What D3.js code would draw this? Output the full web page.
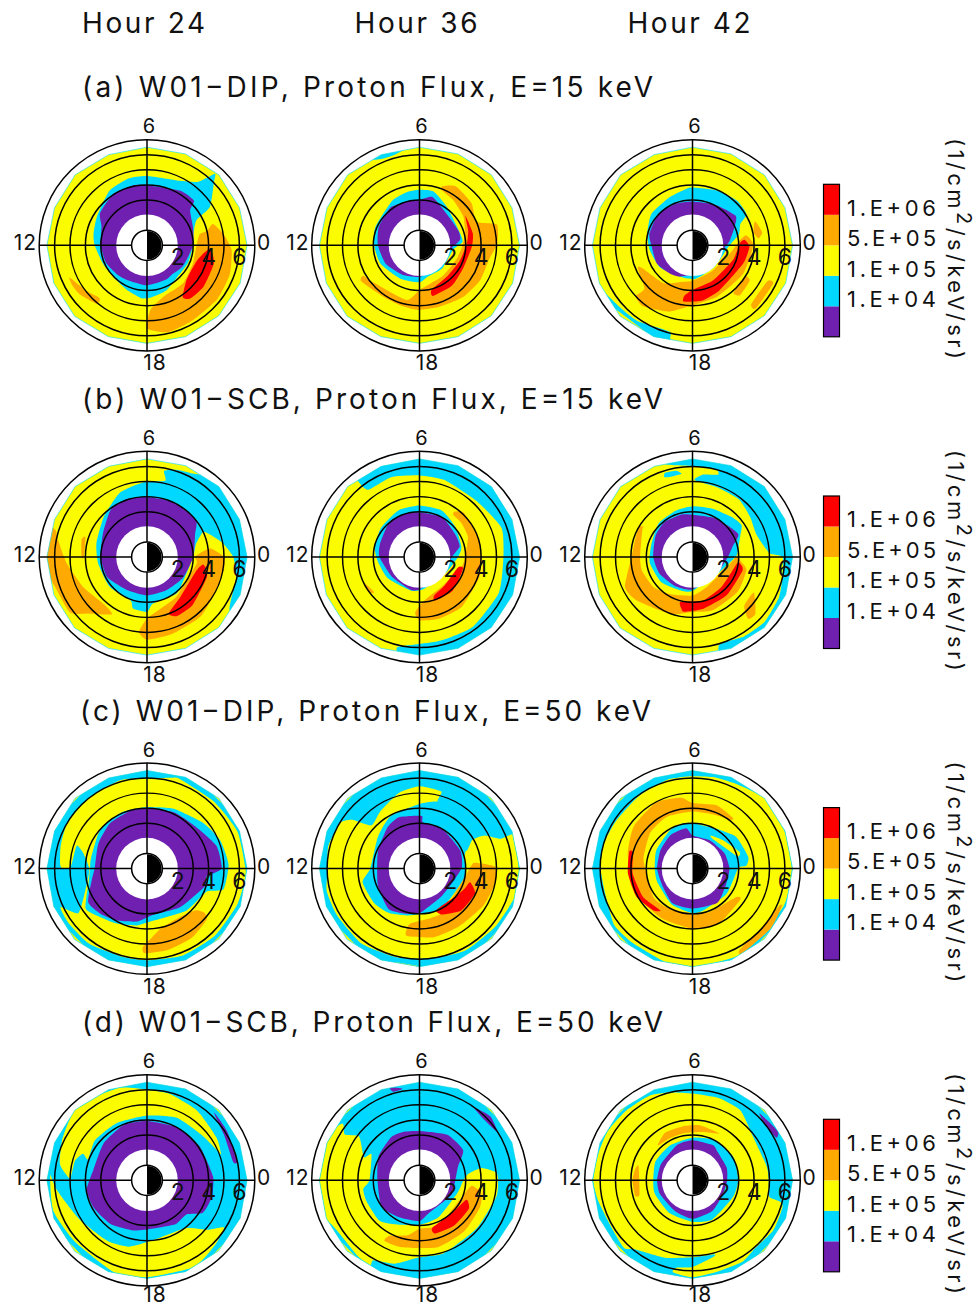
<!DOCTYPE html>
<html lang="en">
<head>
<meta charset="UTF-8">
<title>Proton flux</title>
<script src="https://cdn.jsdelivr.net/npm/d3@7"></script>
<style>
  html,body{margin:0;padding:0;background:#fff;}
  svg{display:block;}
  text{font-family:Inter,"DejaVu Sans",sans-serif;font-weight:400;fill:#111;}
</style>
</head>
<body>
<div id="box"></div>
<script>
// flux levels, low to high
const levelColors=["#7020b0","#00d8ff","#fcfc00","#ffaa00","#ff0000"];
const levelLabels=["","1.E+04","1.E+05","5.E+05","1.E+06"];
const hours=["Hour 24","Hour 36","Hour 42"];
const rowTitles=["(a) W01\u2212DIP, Proton Flux, E=15 keV","(b) W01\u2212SCB, Proton Flux, E=15 keV","(c) W01\u2212DIP, Proton Flux, E=50 keV","(d) W01\u2212SCB, Proton Flux, E=50 keV"];
const rowTitleWidths=[571,581,571,581];
const rings=[1,3,4,5,6,7];
const lTicks=[2,4,6];
const mltSpokes=[0,6,12,18];

// outer edge of the model domain [mlt, L]
const domainEdge=[[0,6.5],[1.5,6.5],[3,6.6],[4.5,6.55],[6,6.5],[7.5,6.5],[9,6.6],[10.5,6.5],[12,6.5],[13.5,6.55],[15,6.65],[16.5,6.55],[18,6.5],[19.5,6.55],[21,6.6],[22.5,6.55]];
const fullDisk=[[0,8],[6,8],[12,8],[18,8]];

// every panel: painted regions in order, [level, [[mlt,L],...]]
const a24=[
 [1,[[6,4.5],[4.2,4.7],[3.4,5.3],[3.1,6.4],[2.9,6.0],[2.1,4.8],[1.8,3.6],[0.9,3.1],[0,3.0],[22.5,2.9],[20.9,2.85],[19.5,3.2],[18.3,3.4],[17.6,3.45],[16.5,3.2],[15,3.0],[13.5,3.1],[12,3.4],[11.2,3.55],[10,3.75],[8.3,4.3],[7,4.5]]],
 [0,[[6,3.9],[3.9,4.15],[2.9,4.2],[2.6,3.6],[1.4,3.2],[0,3.0],[22,2.7],[20.7,2.5],[19.9,2.55],[18,2.6],[16,2.6],[15,2.7],[13.5,2.9],[12,3.0],[10.5,3.2],[9.7,3.7],[8.2,4.0],[6.9,4.0]]],
 [3,[[0.9,4.0],[1.2,4.5],[0.6,5.0],[23.8,5.5],[22.7,5.7],[21.5,5.75],[20.1,5.7],[18.9,5.8],[18,5.4],[18.2,4.2],[19.2,3.5],[20.9,3.4],[22.6,3.2],[23.9,3.2],[0.8,3.5]]],
 [4,[[23.8,4.1],[23,4.5],[21.6,4.55],[20.6,4.45],[20.3,4.1],[21.3,3.4],[22.9,3.4]]],
 [3,[[13.5,5.45],[14.5,4.9],[15.2,4.6],[15.3,5.0],[14.4,5.4],[13.9,5.5]]]
];
const a36=[
 [1,[[6.6,6.35],[6.6,7],[8.2,7],[8,6.4],[7.5,6.1],[7,6.1]]],
 [1,[[6,3.6],[5,3.6],[3.6,3.05],[1.1,2.75],[0.3,2.8],[23.5,2.2],[21,2.1],[19,2.1],[18,2.4],[16,2.5],[13.7,2.8],[12,2.95],[10.5,3.1],[8.1,3.4],[6.9,3.55]]],
 [0,[[6,2.95],[5,3.25],[3.3,2.7],[1.4,2.7],[0.5,2.65],[23,1.8],[20,1.8],[18,2.05],[16,2.2],[13.9,2.5],[12,2.7],[10.4,2.9],[8.5,3.1],[7,2.95]]],
 [3,[[4.6,4.1],[3.9,4.5],[2.6,4.35],[1.5,4.0],[1,5.2],[0.1,5.05],[23.2,4.6],[22,4.55],[20.7,4.4],[19.2,4.2],[17.9,4.2],[16.9,4.1],[15.5,4.1],[14.1,4.45],[13.9,4.15],[14.6,3.85],[17.1,3.65],[18,2.9],[19,2.6],[20.5,2.5],[22.5,2.55],[23.8,2.75],[0.95,3.05],[2.2,3.4],[3.5,3.65],[4.5,3.85]]],
 [4,[[2.2,3.55],[0.85,3.55],[23.9,3.4],[22.2,3.2],[20.6,3.36],[19,3.4],[19,3.0],[20.8,2.7],[22.6,2.8],[0.1,3.07],[1.1,3.3]]]
];
const a42=[
 [1,[[13.8,7],[13.9,6.5],[14.7,6.2],[15.6,6.08],[17,5.8],[17.1,6.2],[17.3,7]]],
 [1,[[6,3.75],[4.4,3.9],[3,4.1],[2,4.05],[1.6,3.4],[0.9,3.1],[0,2.4],[21,2],[18.3,2.2],[16.5,2.2],[14.3,2.55],[12.4,2.8],[11,3.04],[9.5,3.36],[7.7,3.46],[6.4,3.7]]],
 [0,[[6,2.85],[4,3.03],[2.3,3.4],[1.6,3],[0.5,2.45],[0,2.2],[20,1.8],[18,1.9],[16.5,2.2],[15.4,2.35],[13.8,2.6],[12,2.67],[11,2.9],[9.1,3.03],[7.4,2.9]]],
 [3,[[1.4,4.35],[0.7,4.6],[0.4,4.3],[0.8,4.05]]],
 [3,[[0.7,3.55],[0,3.95],[22,3.77],[19.7,3.7],[18,3.9],[16.7,4.57],[15.4,5.1],[14.8,4.95],[14.8,4.2],[13.5,3.85],[13.6,3.6],[15.5,3.1],[17,2.45],[18,2.3],[20.5,2.1],[23.2,2.5],[0.4,3.1]]],
 [4,[[0.4,3.4],[23.9,3.7],[22.7,3.5],[20.1,3.4],[18.7,3.64],[17.4,3.7],[17.4,3.3],[18,2.9],[20,2.64],[22.7,2.8],[0.2,3.1]]],
 [3,[[22,3.96],[21.9,4.36],[20.9,4.47],[20.7,4.1],[21.5,3.9]]],
 [3,[[22.3,5.4],[22.3,5.8],[21,5.8],[21,5.4]]]
];
const b24=[
 [1,[[6,4.9],[5.1,5.1],[5.25,5.7],[4.7,6.0],[3.8,6.4],[3.4,8],[0,8],[22,8],[21.8,6.4],[23.1,5.95],[0,5.6],[0.7,5.0],[1.15,4.5],[1.6,4.0],[1.0,3.3],[0,3.0],[22,2.8],[20.6,3.05],[18.5,3.05],[18,3.57],[17,3.47],[16.6,3.0],[14.6,3.1],[12.5,3.2],[11,3.4],[9.1,3.85],[7.6,4.5],[6.7,4.7]]],
 [0,[[6,3.9],[4.3,3.96],[2.5,4.0],[1.7,3.46],[0,3.0],[22,2.7],[20,2.5],[18,2.5],[16,2.5],[13.8,2.9],[12,3.0],[10.1,3.25],[8.5,3.87],[7.3,4.0]]],
 [3,[[0,5.0],[0.5,4.2],[0.4,3.7],[0,3.1],[23.5,3.25],[20.5,3.2],[19,3.46],[18,4.0],[17.6,4.9],[18,5.37],[19.2,5.26],[20.8,5.2],[22.3,5.0],[23.4,5.07]]],
 [4,[[23.5,3.7],[22.8,4.1],[20.9,4.3],[19.8,4.3],[19.4,3.93],[20.7,3.37],[23,3.34]]],
 [3,[[10.9,6.7],[12,7],[13.3,6.25],[14.4,6.15],[15,5.2],[15.9,4.36],[15.2,4.15],[13.7,4.57],[12.3,5.23],[11.3,5.86],[10.9,6.2]]],
 [3,[[11,4.4],[10.8,4.2],[12,4.1],[12,4.25]]]
];
const b36=[
 [1,[[8.5,8],[8.6,6.3],[8.5,5.5],[7.3,5.5],[6,5.3],[4.8,5.25],[2.9,5.2],[1.3,5.65],[0,5.45],[22.4,5.65],[20.5,5.7],[19,5.6],[18,5.65],[17.1,6.0],[17.1,6.4],[17.2,8],[18,8],[21,8],[0,8],[3,8],[6,8]]],
 [1,[[6,3.35],[4.3,3.35],[2.7,3.05],[0.9,2.8],[0,2.5],[22,2],[18.5,2.1],[17.1,2.25],[14.3,2.47],[12.5,2.7],[11.2,2.98],[9.5,3.14],[7.6,3.33]]],
 [0,[[6,2.9],[4,2.97],[2.2,2.75],[1,2.7],[0,2.1],[22,1.9],[18,2.1],[17,2.2],[14.4,2.2],[12,2.6],[10.8,2.7],[8.7,3.0],[7.2,2.97]]],
 [3,[[3.5,3.7],[3,4.07],[1.3,4.0],[0,4.0],[22.8,4.1],[20.7,4.24],[19.1,4.2],[18,4.1],[17.7,3.6],[18.4,2.85],[20.5,2.4],[23.1,2.8],[0,2.95],[1.5,3.4],[2.6,3.5],[3.4,3.5]]],
 [4,[[23,2.93],[21,3.07],[19.3,3.0],[19.4,2.67],[20.8,2.47],[23,2.6]]],
 [3,[[13.6,4.0],[14.5,3.72],[14.4,3.95],[14,4.05]]]
];
const b42=[
 [1,[[7.2,8],[7.2,6.4],[6,5.9],[5,5.9],[4.85,5.6],[5.5,5.4],[5.9,5.0],[4.7,4.8],[3.4,4.8],[2.3,4.55],[1.3,4.4],[0.2,5.0],[0,5.85],[23.1,6.0],[22.3,6.2],[21.2,6.3],[20.2,6.15],[19.1,6],[19.1,8],[22,8],[1,8],[4,8]]],
 [1,[[7.2,5.75],[6.7,5.7],[6.5,5.45],[7,5.4],[7.3,5.5]]],
 [1,[[6,3.3],[4.5,3.4],[3,3.65],[2.2,3.8],[1.6,3.4],[1.1,3.15],[0.1,2.85],[22,2],[18,2.2],[16.7,2.3],[14.6,2.6],[12.5,2.8],[10.8,2.8],[9,3.1],[7.3,3.2]]],
 [0,[[6,2.75],[3.9,2.94],[1.8,3.33],[1,2.7],[0,2.3],[22,1.9],[18,2.1],[15.9,2.2],[13.8,2.4],[12,2.55],[10,2.77],[8.6,2.9],[7,2.85]]],
 [3,[[10.1,4.0],[12,3.96],[13.6,4.8],[14.5,4.6],[16.6,3.96],[18,3.57],[19.4,3.7],[21.5,3.7],[23.1,3.6],[23.6,3.2],[0,2.85],[23,2.37],[19.7,2.15],[18,2.5],[16,2.8],[14.5,3.2],[13,3.4],[12,3.4],[10,3.74],[9.8,3.55]]],
 [4,[[23.5,3.1],[23,3.37],[20.8,3.33],[18.8,3.43],[17.4,3.6],[17.2,3.44],[17,3.03],[18.9,2.9],[21,2.7],[23.4,2.9]]],
 [3,[[22,4.6],[21.2,5.5],[20.8,5.4],[21.1,4.63]]]
];
const c24=[
 [1,fullDisk],
 [2,[[0,6.4],[1.5,6.35],[3,6.15],[4.7,6.2],[5,6.1],[6,5.85],[7.1,6],[8.6,5.95],[10,5.97],[11,5.8],[11.8,5.65],[12,5.5],[11.9,4.95],[10.8,4.8],[11.1,4.25],[12,3.75],[12.9,4.0],[14.2,5.3],[13.6,6.15],[14.3,6.2],[15.5,6.15],[17,5.95],[18,5.95],[19.5,6.1],[21,6.2],[22.5,6.3],[23.5,6.4]]],
 [1,[[6,4.0],[4.4,4.25],[2.6,4.7],[1.4,5.1],[0.2,5.3],[23,5.15],[22.6,4.16],[20.9,3.74],[18.5,3.4],[17.3,3.75],[16,4.1],[15,4.4],[14.2,4.75],[12.9,3.9],[12,3.7],[11.3,3.7],[9.4,3.94],[7.7,4],[6.7,3.95]]],
 [0,[[6,3.9],[4.3,4.05],[2.6,4.2],[1.2,4.75],[0,4.85],[23.5,3.9],[23,4.0],[22.4,3.7],[20.7,3.3],[18.4,3.05],[17.3,3.5],[16,3.9],[15,4.2],[14,4.4],[12.8,3.67],[12,3.4],[10.2,3.55],[8.6,3.8],[7.1,3.9]]],
 [3,[[21.5,4.7],[21.3,5.1],[20.2,5.36],[19,5.45],[17.9,5.5],[17.8,5.1],[18.3,4.45],[19,3.93],[20.5,3.84],[21.3,4.17]]]
];
const c36=[
 [1,fullDisk],
 [2,[[0,6.45],[1.3,6.5],[1.35,5.6],[1.8,4.75],[1.9,3.9],[1.4,3.3],[1.8,2.5],[4,2.5],[5,4.5],[4.95,5.2],[6,5.35],[7,5.1],[8.3,4.5],[9.2,4.2],[9.6,5.4],[10,5.95],[11.1,6.1],[12,5.95],[12.9,6.2],[14,6.15],[15.5,6.15],[17,5.95],[18,5.85],[19,5.9],[20,6.1],[21.5,6.2],[23,6.5]]],
 [2,[[17,6.3],[18,6.35],[18,6.7],[16.8,6.7]]],
 [1,[[6,4.2],[7.9,3.9],[9.5,3.4],[12,3.2],[12.9,3.8],[14.5,3.7],[15.7,3.5],[17,3.15],[18,2.95],[20,2.95],[23.3,3.0],[0.95,3.0],[1.4,3.2],[2.5,3.5],[4.5,4.0],[5,4.5]]],
 [0,[[5.8,3.4],[5.7,3.0],[4,2.97],[1.6,2.9],[0.1,2.75],[22.3,2.3],[20.5,2.3],[18,2.9],[16.8,3.07],[15.5,3.3],[13.6,2.94],[12,2.75],[10.4,2.94],[8.5,3.4],[7.5,3.6],[6.5,3.45]]],
 [3,[[0.4,3.6],[0.1,4.9],[23.4,5.05],[22,4.8],[20.3,4.55],[18.8,4.55],[17.3,4.45],[17.2,4.1],[17.4,3.6],[19.7,3.25],[23.3,3.0],[0,3.25]]],
 [4,[[23,3.4],[22.4,3.95],[21,3.84],[19.7,3.3],[19.5,2.9],[21.5,2.95],[22.4,3.2]]]
];
const c42=[
 [1,fullDisk],
 [2,[[0,6.45],[1.5,6.45],[3,6.5],[4.1,6.2],[5.1,6.1],[6,6],[7,6],[8.4,5.86],[9.9,5.85],[11,6],[12,5.97],[13.1,5.9],[14.4,6.27],[15.4,6.2],[17,6.35],[18,6.4],[20,6.4],[22.5,6.4]]],
 [1,[[6,2.95],[4,3],[2.4,3.5],[0.8,3.7],[0.2,3.5],[0.1,3],[23,2.75],[21.5,2.75],[19,2.8],[18,2.9],[16,2.7],[13.4,2.45],[12,2.45],[10.2,2.64],[8,2.9],[6.8,3]]],
 [2,[[4.1,2.45],[2.9,2.7],[1.3,3.25],[1,3.05],[2,2.56],[3.7,2.33]]],
 [0,[[6,2.15],[6.6,2.65],[8.2,2.6],[10,2.4],[12,2.3],[14,2.25],[16,2.6],[18,2.6],[20.4,2.75],[22.4,2.4],[0,2.4],[1.7,2.3],[3.9,2.15]]],
 [3,[[3.4,4.2],[4.6,4.4],[6,4.26],[6.6,4.66],[7.9,4.9],[9.6,4.7],[11.2,4.3],[13.5,4.07],[15.8,3.8],[18,3.9],[19.6,4],[21.8,3.7],[21.8,3.4],[19.5,3.03],[18,2.9],[16,3],[14.5,3.15],[12.4,3],[11.2,3.25],[9.3,3.6],[7.8,3.75],[6,3.7],[4.4,3.8],[3.5,3.98]]],
 [4,[[11,4.25],[11,4.0],[12.3,3.9],[14,3.7],[15.5,3.43],[15.1,3.72],[13.8,4.07],[12.3,4.2]]],
 [3,[[22.5,6.3],[21.5,6.4],[20,6.4],[20,6.1],[21.2,5.9],[22.4,6.1]]]
];
const d24=[
 [1,fullDisk],
 [2,[[1.3,5.1],[2.1,5.3],[3.6,5.57],[5,5.8],[6,5.9],[7.1,6.27],[8.5,6.5],[9.3,6.45],[10.3,6.1],[11.3,5.75],[11.9,5.0],[11,4.85],[10.5,4.5],[10.7,4.06],[9.5,4.26],[7.9,4.2],[6,4.2],[4.3,4.5],[2.7,4.6],[1.6,4.93]]],
 [2,[[11.8,6.3],[13.2,6.4],[14.7,6.15],[16.7,6.35],[18,6.3],[19.9,6.4],[21.1,6.1],[21.9,5.87],[21.4,5.1],[20.6,4.0],[18.4,3.9],[17,4.46],[15.8,4.7],[14,5.07],[12.4,5.9]]],
 [0,[[6,3.85],[4,3.96],[2.2,4.07],[0.2,4.3],[23,4.34],[22,4.2],[21.3,3.4],[20.2,3.4],[18.5,3.15],[17,3.37],[15.3,3.7],[13.8,3.9],[12.6,3.97],[11.3,3.55],[9.3,3.7],[7.5,3.9]]],
 [0,[[3,6.2],[2.1,6.1],[0.8,6],[0.8,5.73],[2,5.8],[2.8,6.04]]]
];
const d36=[
 [1,fullDisk],
 [2,[[9.6,6.25],[11,7.5],[13,7.5],[13.75,6.4],[15.4,6.35],[16,6.4],[16,6],[16.9,5.65],[18,5],[19.2,5],[21.3,4.85],[23.2,5.1],[0,5.1],[0.4,5],[0.75,4.1],[0.5,3.2],[0,2.85],[22.8,2.6],[19.8,2.7],[18,2.9],[16,3.3],[15,3.7],[13.5,3.7],[12.6,3.7],[12,3.25],[10.1,3.55],[10.5,3.9],[9.6,4.85],[9.9,5.7]]],
 [3,[[16,4.55],[17,4.5],[19,4.5],[20.8,4.4],[22.4,4.3],[23.2,4.1],[23.6,3.4],[22.2,2.9],[19.5,3.2],[18,3.15],[17.2,3.65],[16.1,4.1]]],
 [4,[[22.5,3.3],[22,3.7],[20.5,3.7],[19.1,3.6],[19,3.2],[21,3]]],
 [0,[[6,3.2],[3.9,3.46],[2.3,3.44],[1.3,2.65],[23.8,2.3],[22.3,2.27],[19,2.24],[18,2.65],[16,2.75],[14.3,3],[12,2.73],[10,3.08],[8.2,3.35],[7.1,3.3]]],
 [0,[[7.2,6.35],[7.1,6],[6.7,6.05]]],
 [0,[[3.55,5.9],[2.8,6.2],[2.1,5.95],[2.85,5.76]]]
];
const d42=[
 [1,fullDisk],
 [2,[[6,5.63],[4.8,5.6],[3.7,5.5],[2.4,4.85],[0.7,4.9],[0,4.95],[23.2,5.1],[23.1,5.8],[22.9,6.1],[21.9,6.17],[20.8,6],[20.1,6.2],[19,6.15],[18,6.3],[17.2,6.1],[17.3,5.77],[18,5.63],[19,5.16],[19.1,5],[18,5],[16.7,5.33],[15.4,5.8],[15,6.25],[14.2,6.1],[12.8,6.27],[12,6.45],[11,6.36],[10,6.36],[8.9,6.25],[7.8,6.17],[7,5.9]]],
 [1,[[6,2.77],[4,3],[2,3.05],[0,2.97],[22.5,2.85],[19.8,2.85],[18,2.7],[15.7,2.6],[13.3,2.6],[12,2.55],[10.2,2.7],[8.2,2.7]]],
 [0,[[6,2.6],[4,2.64],[3.4,2.5],[1.4,2.37],[0,2.25],[22.4,2.17],[20.2,2.37],[18,2.5],[16,2.3],[13.5,2.3],[12,2.3],[10.2,2.3],[7.6,2.5]]],
 [3,[[9,3.2],[8,3.57],[6.7,3.56],[5.5,3.6],[4,3.5],[5.2,3.2],[6.7,3.1],[8,3.1]]],
 [3,[[11.3,3.8],[11,3.63],[13,3.56],[13,3.86],[12,3.9]]],
 [0,[[3,6.15],[2,6.4],[1.8,6.1],[2.5,5.95]]]
];
const panelGrid=[[a24,a36,a42],[b24,b36,b42],[c24,c36,c42],[d24,d36,d42]];

const width=977,height=1306;
const colX=[147,419.5,692.5];
const rowY=[245.3,557,868.6,1180.3];
const squash=0.98; // the plot frame is a touch flatter than round

const svg=d3.select("#box").append("svg").attr("width",width).attr("height",height);

const radius=d3.scaleLinear().domain([0,7]).range([0,107.8]);
// 6 at the top, 0 on the right, 12 left, 18 at the bottom
const angle=d3.scaleLinear().domain([0,24]).range([Math.PI/2,Math.PI/2-2*Math.PI]);
const blob=d3.lineRadial().angle(d=>angle(d[0])).radius(d=>radius(d[1])).curve(d3.curveCardinalClosed.tension(0.45));
const edge=d3.lineRadial().angle(d=>angle(d[0])).radius(d=>radius(d[1])).curve(d3.curveLinearClosed);

hours.forEach((h,i)=>{
  svg.append("text").text(h).attr("x",colX[i]-65).attr("y",33)
    .attr("font-size",28).attr("textLength",123).attr("lengthAdjust","spacing");
});

panelGrid.forEach((row,r)=>{
  svg.append("text").text(rowTitles[r]).attr("x",r==2?80:82).attr("y",rowY[r]-148)
    .attr("font-size",28).attr("textLength",rowTitleWidths[r]).attr("lengthAdjust","spacing");

  row.forEach((regions,c)=>{
    const g=svg.append("g").attr("transform",`translate(${colX[c]},${rowY[r]})`);
    const clipId=`clip-${r}-${c}`;
    g.append("clipPath").attr("id",clipId).append("path")
      .attr("d",edge(domainEdge)).attr("transform",`scale(1,${squash})`);

    const body=g.append("g").attr("clip-path",`url(#${clipId})`);
    body.append("circle").attr("r",radius(8)).attr("fill",levelColors[2]);
    body.selectAll("path.region").data(regions).join("path")
      .attr("class","region")
      .attr("d",d=>blob(d[1]))
      .attr("fill",d=>levelColors[d[0]]);

    // hole inside L=2
    g.append("circle").attr("r",radius(2)).attr("fill","#fff");

    const frame=g.append("g").attr("transform",`scale(1,${squash})`);
    frame.append("path").attr("d",edge(domainEdge)).attr("fill","none")
      .attr("stroke",levelColors[1]).attr("stroke-width",0.6);

    frame.selectAll("circle.ring").data(rings).join("circle")
      .attr("class","ring")
      .attr("r",d=>radius(d))
      .attr("fill","none").attr("stroke","#000").attr("stroke-width",1.5);

    frame.selectAll("line.spoke").data(mltSpokes).join("line")
      .attr("class","spoke")
      .attr("x1",d=>radius(1)*Math.sin(angle(d)))
      .attr("y1",d=>-radius(1)*Math.cos(angle(d)))
      .attr("x2",d=>radius(7)*Math.sin(angle(d)))
      .attr("y2",d=>-radius(7)*Math.cos(angle(d)))
      .attr("stroke","#000").attr("stroke-width",1.5);

    // sunlit side white, night side black
    frame.append("path")
      .attr("d",d3.arc()({innerRadius:0,outerRadius:radius(1)-0.8,startAngle:0,endAngle:Math.PI}))
      .attr("fill","#000");

    g.selectAll("text.lval").data(lTicks).join("text")
      .attr("class","lval")
      .attr("x",d=>radius(d)).attr("y",20)
      .attr("text-anchor","middle").attr("font-size",23)
      .text(d=>d);

    g.append("text").text("6").attr("x",2).attr("y",-112).attr("text-anchor","middle").attr("font-size",20);
    // last row sits right on the page edge
    g.append("text").text("18").attr("x",8).attr("y",r==3?122:125).attr("text-anchor","middle").attr("font-size",21).attr("letter-spacing",1);
    g.append("text").text("12").attr("x",-110).attr("y",5).attr("text-anchor","end").attr("font-size",21).attr("letter-spacing",1);
    g.append("text").text("0").attr("x",110).attr("y",5).attr("font-size",21);
  });

  // colour bar
  const barTop=rowY[r]-61,barH=152.5;
  const barScale=d3.scaleBand().domain(d3.range(levelColors.length).reverse()).range([barTop,barTop+barH]);
  const bar=svg.append("g");
  bar.selectAll("rect").data(d3.range(levelColors.length)).join("rect")
    .attr("x",823.5).attr("width",16)
    .attr("y",d=>barScale(d)).attr("height",barScale.bandwidth())
    .attr("fill",d=>levelColors[d]);
  bar.append("rect").attr("x",823.5).attr("y",barTop).attr("width",16).attr("height",barH)
    .attr("fill","none").attr("stroke","#000").attr("stroke-width",1.2);
  bar.selectAll("text").data(d3.range(1,levelColors.length)).join("text")
    .attr("x",847)
    .attr("y",d=>barScale(d)+barScale.bandwidth()/2+16)
    .attr("font-size",22).attr("textLength",89).attr("lengthAdjust","spacing")
    .text(d=>levelLabels[d]);

  // unit label, reads top to bottom
  const unit=svg.append("text")
    .attr("transform",`translate(948,${rowY[r]-107}) rotate(90)`)
    .attr("font-size",22).attr("letter-spacing",3.4);
  unit.append("tspan").text("(1/cm");
  unit.append("tspan").text("2").attr("dy",-9).attr("font-size",20);
  unit.append("tspan").text("/s/keV/sr)").attr("dy",9);
});
</script>
</body>
</html>
